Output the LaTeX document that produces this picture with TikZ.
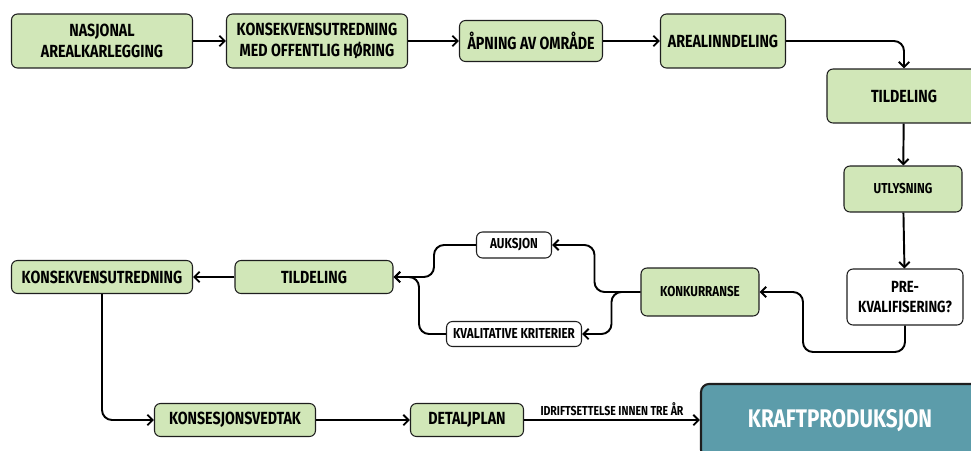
\documentclass[tikz,border=0pt]{standalone}
\usepackage{fontspec}
\setmainfont{Fira Sans}[FakeStretch=0.81]
\usetikzlibrary{arrows.meta}

\definecolor{stepgreen}{HTML}{D1E7B8}
\definecolor{endteal}{HTML}{5C9CAA}
\definecolor{edgegray}{HTML}{1E1E1E}

\begin{document}
\begin{tikzpicture}[x=0.02cm,y=-0.02cm,
    box/.style={draw=edgegray,line width=0.6pt,fill=stepgreen,rounded corners=0.12cm,
      align=center,inner sep=0pt,font=\fontsize{10}{11.5}\selectfont\bfseries},
    smallbox/.style={box,font=\fontsize{8.2}{9}\selectfont\bfseries},
    choice/.style={box,fill=white,font=\fontsize{8.2}{9}\selectfont\bfseries},
    arr/.style={line width=1.1pt,-{Straight Barb[length=3pt,width=6pt]}},
    lbl/.style={font=\fontsize{7.4}{8}\selectfont\bfseries,inner sep=2pt}]

  \clip (0,0) rectangle (971,450);

  % top row
  \node (nas) [box,minimum width=3.62cm,minimum height=1.08cm] at (102,41)
    {NASJONAL\\AREALKARLEGGING};
  \node (kon1) [box,minimum width=3.62cm,minimum height=1.08cm] at (317,41)
    {KONSEKVENSUTREDNING\\MED OFFENTLIG HØRING};
  \node (apn) [box,minimum width=2.86cm,minimum height=0.82cm] at (531,41)
    {ÅPNING AV OMRÅDE};
  \node (are) [box,minimum width=2.5cm,minimum height=1.08cm] at (723,41)
    {AREALINNDELING};

  % right column
  \node (til1) [box,minimum width=3.08cm,minimum height=1.08cm] at (904,96)
    {TILDELING};
  \node (utl) [smallbox,minimum width=2.36cm,minimum height=0.92cm] at (903,189)
    {UTLYSNING};
  \node (pre) [box,fill=white,minimum width=2.32cm,minimum height=1.12cm,
    font=\fontsize{9.2}{11.5}\selectfont\bfseries] at (905,297)
    {PRE-\\KVALIFISERING?};

  % competition
  \node (konk) [smallbox,minimum width=2.36cm,minimum height=0.96cm] at (700,292)
    {KONKURRANSE};
  \node (auk) [choice,minimum width=1.5cm,minimum height=0.52cm] at (514,245)
    {AUKSJON};
  \node (kval) [choice,minimum width=2.7cm,minimum height=0.5cm] at (514,334)
    {KVALITATIVE KRITERIER};

  % middle row
  \node (til2) [box,minimum width=3.16cm,minimum height=0.66cm] at (314,277)
    {TILDELING};
  \node (kon2) [box,minimum width=3.62cm,minimum height=0.66cm] at (102,277)
    {KONSEKVENSUTREDNING};

  % bottom row
  \node (kvd) [box,minimum width=3.22cm,minimum height=0.66cm] at (235,420)
    {KONSESJONSVEDTAK};
  \node (det) [box,minimum width=2.26cm,minimum height=0.66cm] at (467,420)
    {DETALJPLAN};
  \node (kraft) [draw=edgegray,line width=1.2pt,fill=endteal,rounded corners=0.16cm,
    minimum width=5.56cm,minimum height=1.48cm,text=white,
    font=\fontsize{14.5}{16}\selectfont\bfseries] at (840,421) {KRAFTPRODUKSJON};

  \coordinate (turn) at (803,352);

  \draw [arr] (nas) -- (kon1);
  \draw [arr] (kon1) -- (apn);
  \draw [arr] (apn) -- (are);
  \draw [arr,rounded corners=0.2cm] (are.east) -| (til1.north);
  \draw [arr] (til1) -- (utl);
  \draw [arr] (utl) -- (pre);
  \draw [arr,rounded corners=0.2cm] (pre.south) |- (turn) |- (konk.east);

  \draw [arr,rounded corners=0.2cm] (konk.west) -- ++(-46,0) |- (auk.east);
  \draw [arr,rounded corners=0.2cm] (konk.west) -- ++(-29,0) |- (kval.east);
  \draw [arr,rounded corners=0.2cm] (auk.west) -- ++(-42,0) |- (til2.east);
  \draw [arr,rounded corners=0.2cm] (kval.west) -- ++(-27,0) |- (til2.east);

  \draw [arr] (til2) -- (kon2);
  \draw [arr,rounded corners=0.2cm] (kon2.south) |- (kvd.west);
  \draw [arr] (kvd) -- (det);
  \draw [arr] (det.east) -- node [lbl,above] {IDRIFTSETTELSE INNEN TRE ÅR}
    (det.east -| kraft.west);
\end{tikzpicture}
\end{document}
